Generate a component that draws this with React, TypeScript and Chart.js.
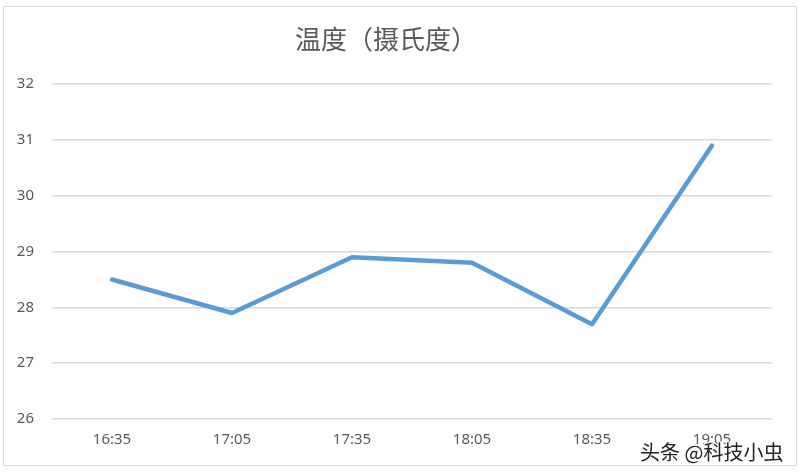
import { useEffect, useRef } from "react";
import Chart from "chart.js/auto";

const times = ["16:35", "17:05", "17:35", "18:05", "18:35", "19:05"];
const temps = [28.5, 27.9, 28.9, 28.8, 27.7, 30.9];
const yMin = 26;
const yMax = 32;

export default function App() {
  const ref = useRef<HTMLCanvasElement | null>(null);

  useEffect(() => {
    document.body.style.margin = "0";
    if (!ref.current) return;
    const c = new Chart(ref.current, {
      type: "line",
      data: {
        labels: times,
        datasets: [
          {
            label: "温度",
            data: temps,
            borderColor: "#5b9bd5",
            borderWidth: 4.5,
            borderJoinStyle: "round",
            borderCapStyle: "round",
            pointRadius: 0,
            tension: 0,
            fill: false,
          },
        ],
      },
      options: {
        animation: false,
        responsive: false,
        layout: { padding: { left: 0, right: 28, top: 0, bottom: 27 } },
        plugins: {
          legend: { display: false },
          tooltip: { enabled: false },
          title: {
            display: true,
            text: "温度（摄氏度）",
            color: "#595959",
            font: { family: "'Noto Sans CJK SC', sans-serif", size: 26, weight: "normal" },
            padding: { top: 24, bottom: 29 },
          },
        },
        scales: {
          x: {
            offset: true,
            grid: { display: false, drawTicks: false },
            border: { display: false },
            ticks: {
              color: "#595959",
              padding: 12,
              maxRotation: 0,
              font: { family: "'Noto Sans', sans-serif", size: 15 },
            },
            afterFit: (s) => {
              s.height = 30;
            },
          },
          y: {
            min: yMin,
            max: yMax,
            grid: { color: "#d9d9d9", lineWidth: 1.5, drawTicks: false },
            border: { display: false },
            ticks: {
              stepSize: 1,
              color: "#595959",
              padding: 18,
              font: { family: "'Noto Sans', sans-serif", size: 15 },
            },
            afterFit: (s) => {
              s.width = 52;
            },
          },
        },
      },
    });
    return () => c.destroy();
  }, []);

  return (
    <div style={{ position: "relative", width: 800, height: 476, background: "#fff", overflow: "hidden" }}>
      <div
        style={{
          position: "absolute",
          left: 3,
          top: 6,
          width: 792,
          height: 458,
          border: "1px solid #d9d9d9",
        }}
      />
      <canvas ref={ref} width={800} height={476} style={{ position: "absolute", left: 0, top: 0 }} />
      <div
        style={{
          position: "absolute",
          left: 640,
          top: 437,
          fontFamily: "'Noto Sans CJK SC', sans-serif",
          fontSize: 20,
          color: "#222",
          textShadow: "1px 1px 0 #fff, -1px -1px 0 #fff, 1px -1px 0 #fff, -1px 1px 0 #fff",
          whiteSpace: "nowrap",
        }}
      >
        头条 @科技小虫
      </div>
    </div>
  );
}
